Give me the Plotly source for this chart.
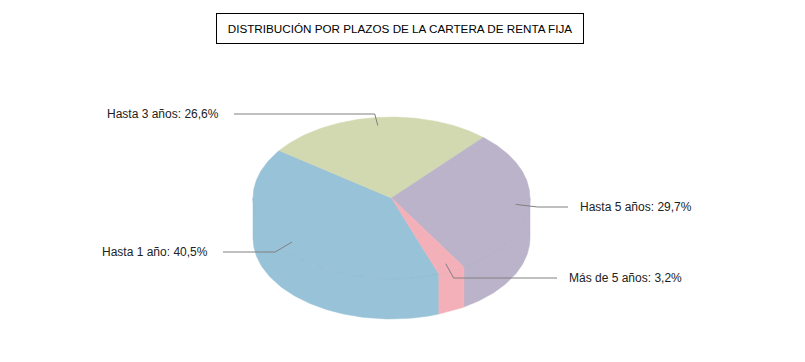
import numpy as np
import plotly.graph_objects as go

# ---- data ----
categories = ["Hasta 1 año", "Hasta 3 años", "Hasta 5 años", "Más de 5 años"]
values = [40.5, 26.6, 29.7, 3.2]
title_text = "DISTRIBUCIÓN POR PLAZOS DE LA CARTERA DE RENTA FIJA"

# ---- style / layout ----
colors = ["#97C2D8", "#D2D9B0", "#BAB3CA", "#F4B0B8"]
START_DEG = 160          # first slice starts here (clockwise from 12 o'clock)
W, H = 805, 362
PAGE_OFF = 8             # default page body margin
CX, CY, RX, RY, DEPTH = 391.5, 198, 138.5, 81, 40
LINE_COLOR = "#808080"
FONT = "Liberation Sans, Arial, sans-serif"

# label layout: (label y, line end x, elbow dx, side)
label_layout = [
    (252, 223, -17, "left"),
    (114, 234, -3, "left"),
    (207, 568, 22, "right"),
    (278, 557, 8, "right"),
]


def pt(theta_deg, r=1.0, dy=0.0):
    t = np.radians(theta_deg)
    return CX + r * RX * np.sin(t), CY - r * RY * np.cos(t) + dy


total = float(sum(values))
bounds = START_DEG + 360.0 * np.concatenate([[0.0], np.cumsum(values) / total])

fig = go.Figure()

# side walls (visible part: lower half of the ellipse)
for i, cat in enumerate(categories):
    t0, t1 = bounds[i], bounds[i + 1]
    for lo_v, hi_v in [(90, 270), (450, 630)]:
        lo, hi = max(t0, lo_v), min(t1, hi_v)
        if hi <= lo:
            continue
        th = np.linspace(lo, hi, 80)
        xt, yt = pt(th)
        xb, yb = pt(th[::-1], dy=DEPTH)
        xs = np.concatenate([xt, xb, xt[:1]])
        ys = np.concatenate([yt, yb, yt[:1]])
        fig.add_trace(go.Scatter(
            x=xs, y=ys, mode="lines", fill="toself",
            fillcolor=colors[i], line=dict(color=colors[i], width=0.5),
            hoverinfo="skip", showlegend=False))

# top faces
for i, cat in enumerate(categories):
    t0, t1 = bounds[i], bounds[i + 1]
    th = np.linspace(t0, t1, 200)
    xa, ya = pt(th)
    xs = np.concatenate([[CX], xa, [CX]])
    ys = np.concatenate([[CY], ya, [CY]])
    fig.add_trace(go.Scatter(
        x=xs, y=ys, mode="lines", fill="toself",
        fillcolor=colors[i], line=dict(color=colors[i], width=0.5),
        name=cat, text=f"{cat}: {values[i]:.1f}%".replace(".", ","),
        hoverinfo="text", showlegend=False))

# faint rim where top meets wall
th = np.linspace(90, 270, 200)
xr, yr = pt(th)
fig.add_trace(go.Scatter(x=xr, y=yr, mode="lines",
                         line=dict(color="rgba(0,0,0,0.03)", width=1),
                         hoverinfo="skip", showlegend=False))

# leader lines and labels
annotations = []
for i, cat in enumerate(categories):
    mid = (bounds[i] + bounds[i + 1]) / 2.0
    ax, ay = pt(mid, r=0.9)
    ly, lx_end, edx, side = label_layout[i]
    fig.add_trace(go.Scatter(
        x=[ax, ax + edx, lx_end], y=[ay, ly, ly], mode="lines",
        line=dict(color=LINE_COLOR, width=1),
        hoverinfo="skip", showlegend=False))
    txt = f"{cat}: {values[i]:.1f}%".replace(".", ",")
    if side == "left":
        annotations.append(dict(x=lx_end - 13, y=ly, text=txt, xanchor="right",
                                yanchor="middle", showarrow=False,
                                font=dict(family=FONT, size=12, color="#222222")))
    else:
        annotations.append(dict(x=lx_end + 10, y=ly, text=txt, xanchor="left",
                                yanchor="middle", showarrow=False,
                                font=dict(family=FONT, size=12, color="#222222")))

annotations.append(dict(
    x=399.5, y=28, text=title_text, showarrow=False, xanchor="center",
    yanchor="middle", width=366, height=29, bordercolor="#000000",
    borderwidth=1, borderpad=0,
    font=dict(family=FONT, size=11.7, color="#000000")))

fig.update_layout(
    width=W, height=H, margin=dict(l=0, r=0, t=0, b=0),
    paper_bgcolor="white", plot_bgcolor="white",
    xaxis=dict(range=[PAGE_OFF, W + PAGE_OFF], visible=False, fixedrange=True),
    yaxis=dict(range=[H + PAGE_OFF, PAGE_OFF], visible=False, fixedrange=True),
    annotations=annotations, showlegend=False,
)

fig.write_html("out.html")
